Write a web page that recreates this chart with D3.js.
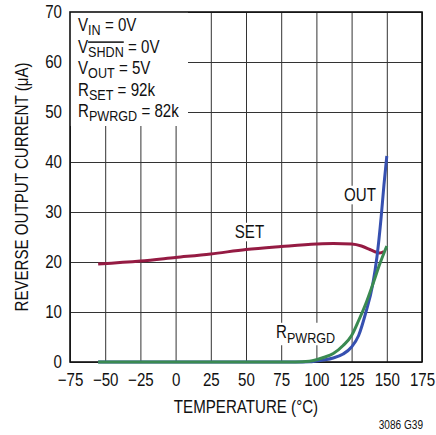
<!DOCTYPE html>
<html>
<head>
<meta charset="utf-8">
<script src="https://cdn.jsdelivr.net/npm/d3@7"></script>
<style>
  body { margin: 0; background: #fff; }
  text { font-family: "Liberation Sans", Arial, sans-serif; fill: #111; }
</style>
</head>
<body>
<div id="chart"></div>
<script>
// values
var setTemp = [-55, -25, 0, 25, 50, 75, 100, 112, 125, 132, 138, 142, 145, 148];
var setCurr = [19.6, 20.2, 20.9, 21.6, 22.5, 23.1, 23.6, 23.7, 23.6, 23.2, 22.5, 22.0, 21.8, 22.1];

var outTemp = [-55, 0, 50, 85, 95, 100, 105, 112, 119, 125, 130, 135, 140, 143, 146, 148, 150];
var outCurr = [0, 0, 0, 0, 0.05, 0.2, 0.4, 0.8, 1.6, 3.0, 5.3, 9.8, 15.5, 21, 29, 35.5, 41.2];

var pgTemp = [-55, 0, 50, 85, 95, 100, 105, 112, 119, 125, 130, 135, 140, 145, 150];
var pgCurr = [0, 0, 0, 0, 0.15, 0.45, 0.9, 1.7, 3.3, 5.3, 8.3, 11.6, 15.5, 19.6, 23.2];

var xTicks = [-75, -50, -25, 0, 25, 50, 75, 100, 125, 150, 175];
var yTicks = [0, 10, 20, 30, 40, 50, 60, 70];

var K = 0.84; // horizontal squeeze to mimic the condensed face

var margin = {top: 12, right: 14, bottom: 73, left: 70},
    width = 436 - margin.left - margin.right,
    height = 435 - margin.top - margin.bottom;

var svg = d3.select("#chart").append("svg")
    .attr("width", 436)
    .attr("height", 435);

var g = svg.append("g")
    .attr("transform", "translate(" + margin.left + "," + margin.top + ")");

var x = d3.scaleLinear().domain([-75, 175]).range([0, width]);
var y = d3.scaleLinear().domain([0, 70]).range([height, 0]);

// put a text at (px, py) squeezed horizontally
function ctext(parent, px, py, size) {
    return parent.append("text")
        .attr("transform", "translate(" + px + "," + py + ") scale(" + K + ",1)")
        .style("font-size", size + "px");
}

// grid
var gx = g.append("g")
    .attr("transform", "translate(0," + height + ")")
    .call(d3.axisBottom(x).tickValues(xTicks).tickSize(-height).tickPadding(11));
gx.select(".domain").remove();
gx.selectAll("line").attr("stroke", "#333").attr("stroke-width", 1);
gx.selectAll("text").style("font-size", "18px").attr("fill", "#111")
    .attr("transform", "scale(" + K + ",1)");

var gy = g.append("g")
    .call(d3.axisLeft(y).tickValues(yTicks).tickSize(-width).tickPadding(8));
gy.select(".domain").remove();
gy.selectAll("line").attr("stroke", "#333").attr("stroke-width", 1);
gy.selectAll("text").style("font-size", "18px").attr("fill", "#111")
    .attr("x", -8 / K)
    .attr("transform", "scale(" + K + ",1)");

// white box behind the conditions block
g.append("rect")
    .attr("x", 0).attr("y", 0)
    .attr("width", 118).attr("height", 114)
    .attr("fill", "#fff");

// frame
g.append("rect")
    .attr("x", 0).attr("y", 0)
    .attr("width", width).attr("height", height)
    .attr("fill", "none")
    .attr("stroke", "#111")
    .attr("stroke-width", 1.6);

var line = d3.line()
    .x(function(d) { return x(d[0]); })
    .y(function(d) { return y(d[1]); })
    .curve(d3.curveMonotoneX);

function pairs(t, v) {
    return t.map(function(d, i) { return [d, v[i]]; });
}

g.append("path").datum(pairs(setTemp, setCurr))
    .attr("d", line).attr("fill", "none")
    .attr("stroke", "#951b43").attr("stroke-width", 3);
g.append("path").datum(pairs(outTemp, outCurr))
    .attr("d", line).attr("fill", "none")
    .attr("stroke", "#3650b0").attr("stroke-width", 3);
g.append("path").datum(pairs(pgTemp, pgCurr))
    .attr("d", line).attr("fill", "none")
    .attr("stroke", "#3a8a52").attr("stroke-width", 3);

// curve labels with white backing
function label(xv, yv, main, sub) {
    var t = ctext(g, x(xv), y(yv), 18);
    t.append("tspan").text(main);
    if (sub) {
        t.append("tspan").attr("dy", 5).style("font-size", "15px").text(sub);
    }
    var b = t.node().getBBox();
    g.insert("rect", function() { return t.node(); })
        .attr("x", x(xv) + (b.x - 2) * K).attr("y", y(yv) + b.y + 1)
        .attr("width", (b.width + 4) * K).attr("height", b.height - 2)
        .attr("fill", "#fff");
}
label(42, 24.8, "SET");
label(119.6, 32.2, "OUT");
label(71.3, 4.8, "R", "PWRGD");

// conditions
var cond = [
    ["V", "IN", " = 0V", false],
    ["V", "SHDN", " = 0V", true],
    ["V", "OUT", " = 5V", false],
    ["R", "SET", " = 92k", false],
    ["R", "PWRGD", " = 82k", false]
];
cond.forEach(function(c, i) {
    var t = ctext(g, 8, 19 + i * 21.5, 18);
    t.append("tspan").text(c[0]);
    t.append("tspan").attr("dy", 4).style("font-size", "15px")
        .style("text-decoration", c[3] ? "overline" : null).text(c[1]);
    t.append("tspan").attr("dy", -4).text(c[2]);
});

// axis titles
ctext(svg, margin.left + width / 2, 413, 18)
    .attr("text-anchor", "middle")
    .text("TEMPERATURE (°C)");

svg.append("text")
    .attr("transform", "translate(28," + (margin.top + height / 2) + ") rotate(-90) scale(" + K + ",1)")
    .attr("text-anchor", "middle")
    .style("font-size", "18px")
    .text("REVERSE OUTPUT CURRENT (μA)");

ctext(svg, 423, 429, 12)
    .attr("text-anchor", "end")
    .text("3086 G39");
</script>
</body>
</html>
